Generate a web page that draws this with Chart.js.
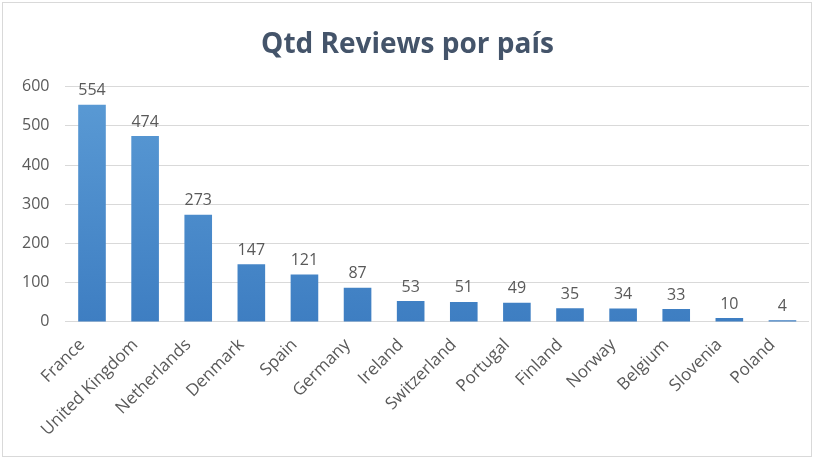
<!DOCTYPE html>
<html>
<head>
<meta charset="utf-8">
<script src="https://cdn.jsdelivr.net/npm/chart.js@4"></script>
<style>
  html, body { margin: 0; padding: 0; background: #fff; }
  #wrap { width: 830px; height: 474px; }
</style>
</head>
<body>
<div id="wrap"><canvas id="myChart" width="830" height="474"></canvas></div>
<script>
// DATA
const countries = ['France', 'United Kingdom', 'Netherlands', 'Denmark', 'Spain', 'Germany', 'Ireland',
    'Switzerland', 'Portugal', 'Finland', 'Norway', 'Belgium', 'Slovenia', 'Poland'];
const reviews = [554, 474, 273, 147, 121, 87, 53, 51, 49, 35, 34, 33, 10, 4];
const yTicks = [0, 100, 200, 300, 400, 500, 600];

// value labels above each bar
const valueLabels = {
    id: 'valueLabels',
    afterDatasetsDraw(chart) {
        const ctx = chart.ctx;
        const meta = chart.getDatasetMeta(0);
        ctx.save();
        ctx.font = '16px "Open Sans"';
        ctx.fillStyle = '#595959';
        ctx.textAlign = 'center';
        ctx.textBaseline = 'bottom';
        meta.data.forEach((bar, i) => {
            ctx.fillText(reviews[i], bar.x, bar.y - 6);
        });
        ctx.restore();
    }
};

// light frame round the chart
const frame = {
    id: 'frame',
    beforeDraw(chart) {
        const ctx = chart.ctx;
        ctx.save();
        ctx.strokeStyle = '#d9d9d9';
        ctx.lineWidth = 1;
        ctx.strokeRect(2.5, 2.5, 809, 454);
        ctx.restore();
    }
};

function barGradient(context) {
    const chartArea = context.chart.chartArea;
    if (!chartArea) return '#4f8fd0';
    const g = context.chart.ctx.createLinearGradient(0, chartArea.top, 0, chartArea.bottom);
    g.addColorStop(0, '#5b9bd5');
    g.addColorStop(1, '#3e7ec2');
    return g;
}

const ctx = document.getElementById('myChart').getContext('2d');
const myChart = new Chart(ctx, {
    type: 'bar',
    data: {
        labels: countries,
        datasets: [{
            label: 'Qtd Reviews',
            data: reviews,
            backgroundColor: barGradient,
            borderWidth: 0,
            barPercentage: 0.52,
            categoryPercentage: 1
        }]
    },
    options: {
        responsive: false,
        animation: false,
        layout: { padding: { left: 6, right: 21, top: 20, bottom: 29 } },
        plugins: {
            legend: { display: false },
            tooltip: { enabled: false },
            title: {
                display: true,
                text: 'Qtd Reviews por país',
                color: '#44546a',
                font: { family: '"Open Sans"', size: 28, weight: 'bold' },
                padding: { top: 8, bottom: 25 }
            }
        },
        scales: {
            x: {
                grid: { display: false },
                border: { display: false },
                ticks: {
                    color: '#595959',
                    font: { family: '"Open Sans"', size: 17 },
                    minRotation: 45,
                    maxRotation: 45,
                    padding: 5,
                    labelOffset: -10
                }
            },
            y: {
                min: 0,
                max: 600,
                afterBuildTicks(axis) {
                    axis.ticks = yTicks.map(v => ({ value: v }));
                },
                grid: { color: '#d9d9d9', drawTicks: false },
                border: { display: false },
                ticks: {
                    color: '#595959',
                    font: { family: '"Open Sans"', size: 16 },
                    padding: 16
                }
            }
        }
    },
    plugins: [valueLabels, frame]
});
</script>
</body>
</html>
